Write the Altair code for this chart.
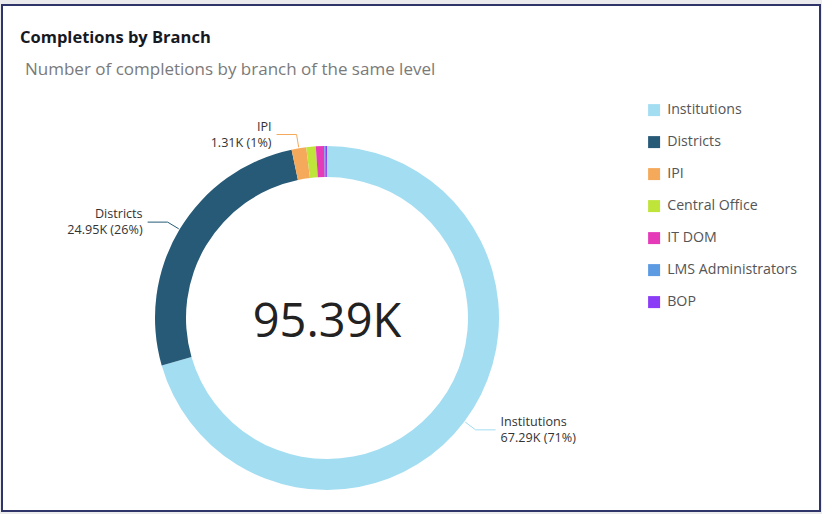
import altair as alt
import pandas as pd

# ---- data ----
categories = ["Institutions", "Districts", "IPI", "Central Office", "IT DOM", "LMS Administrators", "BOP"]
values = [67290, 24950, 1310, 850, 750, 150, 90]
colors = ["#a3ddf1", "#275a77", "#f5a95a", "#bfe43a", "#e63bb9", "#5c9ae2", "#8a3cf6"]

title_text = "Completions by Branch"
subtitle_text = "Number of completions by branch of the same level"

# ---- layout constants ----
CX, CY = 325, 313
R_OUT, R_IN = 172, 141
R_LINE0, R_ELBOW, ARM = 173, 186, 20
FONT = "Open Sans"

df = pd.DataFrame({"category": categories, "value": values, "ord": list(range(len(categories)))})
base = alt.Chart(df)

cscale = alt.Scale(domain=categories, range=colors)

donut = base.mark_arc(outerRadius=R_OUT, innerRadius=R_IN).encode(
    theta=alt.Theta("value:Q", stack=True),
    order=alt.Order("ord:Q", sort="ascending"),
    color=alt.Color(
        "category:N", scale=cscale, sort=categories,
        legend=alt.Legend(
            orient="none", legendX=645, legendY=98, title=None,
            symbolType="square", symbolSize=144, symbolStrokeWidth=0,
            labelFontSize=14.2, labelColor="#555555", labelFont=FONT,
            rowPadding=17, padding=0, labelOffset=6,
        ),
    ),
    x=alt.value(CX),
    y=alt.value(CY),
)

geo = (
    base.transform_joinaggregate(total="sum(value)")
    .transform_window(cum="sum(value)", sort=[alt.SortField("ord")], frame=[None, 0])
    .transform_calculate(mid="(datum.cum - datum.value/2)/datum.total*2*PI")
    .transform_calculate(pct="datum.value/datum.total")
    .transform_calculate(side="sin(datum.mid) > 0 ? 1 : -1")
    .transform_calculate(x0=f"{CX} + {R_LINE0}*sin(datum.mid)")
    .transform_calculate(y0=f"{CY} - {R_LINE0}*cos(datum.mid)")
    .transform_calculate(x1=f"{CX} + {R_ELBOW}*sin(datum.mid)")
    .transform_calculate(y1=f"{CY} - {R_ELBOW}*cos(datum.mid)")
    .transform_calculate(x2=f"datum.x1 + datum.side*{ARM}")
    .transform_calculate(tx="datum.x2 + datum.side*5")
    .transform_calculate(vlabel="format(datum.value/1000, '.2f') + 'K (' + format(datum.pct, '.0%') + ')'")
    .transform_filter("datum.pct >= 0.01")
)

lcolor = alt.Color("category:N", scale=cscale, legend=None)

seg1 = geo.mark_rule(strokeWidth=1).encode(
    x=alt.X("x0:Q", scale=None), y=alt.Y("y0:Q", scale=None),
    x2="x1:Q", y2="y1:Q", color=lcolor,
)
seg2 = geo.mark_rule(strokeWidth=1).encode(
    x=alt.X("x1:Q", scale=None), y=alt.Y("y1:Q", scale=None),
    x2="x2:Q", y2="y1:Q", color=lcolor,
)

def label_layers(side, align):
    g = geo.transform_filter(f"datum.side == {side}")
    common = dict(align=align, baseline="middle", fontSize=12.6, font=FONT, color="#333333")
    name = g.mark_text(dy=-8, **common).encode(
        x=alt.X("tx:Q", scale=None), y=alt.Y("y1:Q", scale=None), text="category:N")
    val = g.mark_text(dy=8, **common).encode(
        x=alt.X("tx:Q", scale=None), y=alt.Y("y1:Q", scale=None), text="vlabel:N")
    return [name, val]

center = (
    base.transform_aggregate(total="sum(value)")
    .transform_calculate(tlabel="format(datum.total/1000, '.2f') + 'K'")
    .mark_text(fontSize=47, font=FONT, color="#222222", align="center", baseline="alphabetic")
    .encode(x=alt.value(CX), y=alt.value(332), text="tlabel:N")
)

title = base.transform_aggregate(n="count()").mark_text(
    align="left", baseline="middle", fontSize=16.5, fontWeight="bold", font=FONT, color="#16191f"
).encode(x=alt.value(18), y=alt.value(33), text=alt.value(title_text))

subtitle = base.transform_aggregate(n="count()").mark_text(
    align="left", baseline="middle", fontSize=17, font=FONT, color="#7a7a7a"
).encode(x=alt.value(23), y=alt.value(65), text=alt.value(subtitle_text))

chart = alt.layer(
    donut, seg1, seg2, *label_layers(1, "left"), *label_layers(-1, "right"), center, title, subtitle
).properties(
    width=818, height=506,
    padding={"left": 2, "top": 5, "right": 2, "bottom": 3},
    autosize=alt.AutoSizeParams(type="none"),
    background="#ebebee",
).configure_view(
    fill="white", stroke="#2f3568", strokeWidth=2,
)

chart.save("out.html", embed_options={"renderer": "svg", "actions": False})
